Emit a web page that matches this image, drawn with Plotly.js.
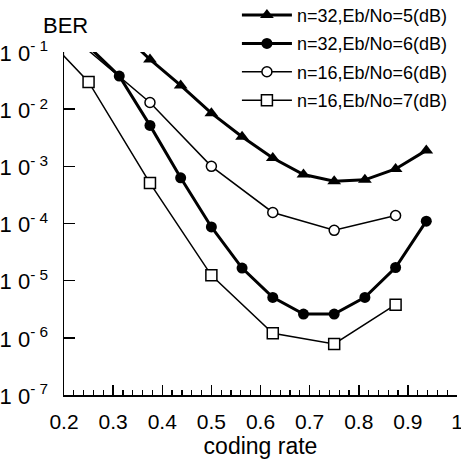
<!DOCTYPE html>
<html>
<head>
<meta charset="utf-8">
<script src="https://cdn.plot.ly/plotly-3.0.1.min.js"></script>
<style>html,body{margin:0;padding:0;background:#fff;}#chart{width:461px;height:470px;}</style>
</head>
<body>
<div id="chart"></div>
<script>
// Data (coding rate vs BER)
var seriesNames = ["n=32,Eb/No=5(dB)", "n=32,Eb/No=6(dB)", "n=16,Eb/No=6(dB)", "n=16,Eb/No=7(dB)"];
var rateN32Eb5 = [0.3125, 0.375, 0.4375, 0.5, 0.5625, 0.625, 0.6875, 0.75, 0.8125, 0.875, 0.9375];
var berN32Eb5  = [0.24, 0.074, 0.026, 0.0085, 0.0033, 0.0014, 7.2e-4, 5.5e-4, 5.8e-4, 9.0e-4, 1.9e-3];
var rateN32Eb6 = [0.1875, 0.3125, 0.375, 0.4375, 0.5, 0.5625, 0.625, 0.6875, 0.75, 0.8125, 0.875, 0.9375];
var berN32Eb6  = [0.41, 0.038, 0.0052, 6.3e-4, 8.7e-5, 1.66e-5, 5.1e-6, 2.6e-6, 2.6e-6, 5.1e-6, 1.7e-5, 1.1e-4];
var rateN16Eb6 = [0.1875, 0.375, 0.5, 0.625, 0.75, 0.875];
var berN16Eb6  = [0.30, 0.0131, 1.0e-3, 1.56e-4, 7.6e-5, 1.38e-4];
var rateN16Eb7 = [0.1875, 0.25, 0.375, 0.5, 0.625, 0.75, 0.875];
var berN16Eb7  = [0.11, 0.030, 5.1e-4, 1.24e-5, 1.2e-6, 7.8e-7, 3.8e-6];
var yTickVals  = [1e-1, 1e-2, 1e-3, 1e-4, 1e-5, 1e-6, 1e-7];
var yTickText  = ["1 0<sup>- 1</sup>", "1 0<sup>- 2</sup>", "1 0<sup>- 3</sup>", "1 0<sup>- 4</sup>", "1 0<sup>- 5</sup>", "1 0<sup>- 6</sup>", "1 0<sup>- 7</sup>"];
var xTickVals  = [0.2, 0.3, 0.4, 0.5, 0.6, 0.7, 0.8, 0.9, 1.0];
var xTickText  = ["0.2", "0.3", "0.4", "0.5", "0.6", "0.7", "0.8", "0.9", "1"];

var FONT = "Liberation Sans, Arial, Helvetica, sans-serif";

var traces = [
  {x: rateN32Eb5, y: berN32Eb5, name: seriesNames[0], mode: "lines+markers", legendgroup: "a",
   line: {color: "#000", width: 3}, marker: {symbol: "triangle-up", size: 12, color: "#000"}},
  {x: rateN32Eb6, y: berN32Eb6, name: seriesNames[1], mode: "lines+markers", legendgroup: "b",
   line: {color: "#000", width: 3}, marker: {symbol: "circle", size: 11, color: "#000"}},
  {x: rateN16Eb6, y: berN16Eb6, name: seriesNames[2], mode: "lines+markers", legendgroup: "c",
   line: {color: "#000", width: 1.5}, marker: {symbol: "circle", size: 10, color: "#fff", line: {color: "#000", width: 1.5}}},
  {x: rateN16Eb7, y: berN16Eb7, name: seriesNames[3], mode: "lines+markers", legendgroup: "d",
   line: {color: "#000", width: 1.5}, marker: {symbol: "square", size: 11, color: "#fff", line: {color: "#000", width: 1.5}}}
];

var layout = {
  width: 461, height: 470,
  margin: {l: 64, r: 4, t: 52, b: 75, pad: 0, autoexpand: false},
  paper_bgcolor: "#fff", plot_bgcolor: "#fff",
  font: {family: FONT, color: "#000", size: 18},
  showlegend: true,
  legend: {x: 0.44, y: 1.161, xanchor: "left", yanchor: "top", traceorder: "grouped", tracegroupgap: 2,
           itemwidth: 50,
           font: {family: FONT, size: 18, color: "#000"}, bgcolor: "rgba(0,0,0,0)", borderwidth: 0},
  xaxis: {type: "linear", range: [0.2, 1.0], tickvals: xTickVals, ticktext: xTickText,
          ticks: "inside", ticklen: 10, tickwidth: 1.5, tickcolor: "#000",
          minor: {dtick: 0.02, tick0: 0.2, ticks: "inside", ticklen: 5, tickwidth: 1.2, tickcolor: "#000", showgrid: false},
          showline: true, linewidth: 1.5, linecolor: "#000", showgrid: false, zeroline: false,
          ticklabelstandoff: 7, ticklabeloverflow: "allow", automargin: false,
          tickfont: {family: FONT, size: 21, color: "#000"},
          title: {text: "coding rate", font: {family: FONT, size: 23, color: "#000"}, standoff: 6}},
  yaxis: {type: "log", range: [-7, -1], tickvals: yTickVals, ticktext: yTickText,
          ticks: "inside", ticklen: 11, tickwidth: 1.5, tickcolor: "#000",
          showline: true, linewidth: 1.5, linecolor: "#000", showgrid: false, zeroline: false,
          ticklabelstandoff: 10, ticklabelshift: 1, ticklabeloverflow: "allow", automargin: false,
          tickfont: {family: FONT, size: 22, color: "#000"}},
  annotations: [
    {text: "BER", xref: "paper", yref: "paper", x: 0.005, y: 1.078, xanchor: "center", yanchor: "middle",
     showarrow: false, font: {family: FONT, size: 22, color: "#000"}}
  ]
};

Plotly.newPlot("chart", traces, layout, {displayModeBar: false, staticPlot: true});
</script>
</body>
</html>
